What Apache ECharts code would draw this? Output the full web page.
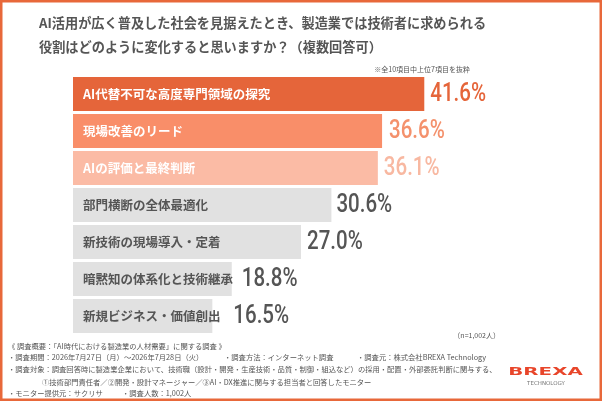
<!DOCTYPE html>
<html>
<head>
<meta charset="utf-8">
<script src="https://cdn.jsdelivr.net/npm/echarts@6/dist/echarts.min.js"></script>
<style>
  html, body { margin: 0; padding: 0; background: #fff; }
  #chart { width: 602px; height: 401px; }
</style>
</head>
<body>
<div id="chart"></div>
<script>
// 項目と回答率（%）
const categories = [
  'AI代替不可な高度専門領域の探究',
  '現場改善のリード',
  'AIの評価と最終判断',
  '部門横断の全体最適化',
  '新技術の現場導入・定着',
  '暗黙知の体系化と技術継承',
  '新規ビジネス・価値創出'
]
const values = [41.6, 36.6, 36.1, 30.6, 27.0, 18.8, 16.5]

const titleLines = [
  'AI活用が広く普及した社会を見据えたとき、製造業では技術者に求められる',
  '役割はどのように変化すると思いますか？（複数回答可）'
]
const note = '※全10項目中上位7項目を抜粋'
const sampleNote = '（n=1,002人）'

// 色・ラベル位置
const barColors = ['#E5653A', '#F98E69', '#FBBBA5', '#E1E1E1', '#E1E1E1', '#E1E1E1', '#E1E1E1']
const nameColors = ['#fff', '#fff', '#fff', '#555', '#555', '#555', '#555']
const valueColors = ['#E5653A', '#F4916C', '#F8B8A1', '#555', '#555', '#555', '#555']
const valueGaps = [6, 7, 6, 5, 6, 10, 21]

const jp = '"Noto Sans CJK JP", "Noto Sans", sans-serif'
const orange = '#E8683A'

function txt(x, y, text, size, opts) {
  return {
    type: 'text',
    x: x,
    y: y,
    style: Object.assign({
      text: text,
      fontSize: size,
      fontFamily: jp,
      fill: '#555',
      textVerticalAlign: 'middle'
    }, opts || {})
  }
}

let chart = echarts.init(document.getElementById('chart'))

chart.setOption({
  backgroundColor: '#fff',
  animation: false,
  grid: { left: 73, top: 75.5, width: 456, height: 259 },
  xAxis: { type: 'value', min: 0, max: 54, show: false },
  yAxis: { type: 'category', data: categories, inverse: true, show: false },
  series: [
    {
      type: 'bar',
      barCategoryGap: '8%',
      data: values.map((v, i) => ({
        value: v,
        itemStyle: { color: barColors[i] },
        label: { color: nameColors[i] }
      })),
      label: {
        show: true,
        position: 'insideLeft',
        distance: 10,
        fontSize: 12.5,
        fontWeight: 'bold',
        fontFamily: jp,
        formatter: p => categories[p.dataIndex]
      },
      z: 2
    },
    // 数値ラベル（細めの数字にするため横方向に縮める）
    {
      type: 'custom',
      data: values.map((v, i) => [v, i]),
      encode: { x: 0, y: 1 },
      renderItem: (params, api) => {
        const i = params.dataIndex
        const pt = api.coord([api.value(0), api.value(1)])
        return {
          type: 'text',
          x: pt[0] + valueGaps[i],
          y: pt[1] + 1,
          scaleX: 0.82,
          style: {
            text: values[i].toFixed(1) + '%',
            fontSize: 25,
            fontWeight: 500,
            fontFamily: 'Roboto, sans-serif',
            fill: valueColors[i],
            textAlign: 'left',
            textVerticalAlign: 'middle'
          }
        }
      },
      z: 3
    }
  ],
  graphic: [
    // 外枠
    {
      type: 'rect',
      shape: { x: 1.25, y: 1.25, width: 599.5, height: 398.5 },
      style: { fill: 'none', stroke: orange, lineWidth: 2.5 },
      z: 10
    },
    txt(39, 23, titleLines[0], 13.2, { fontWeight: 'bold' }),
    txt(39, 47, titleLines[1], 13.2, { fontWeight: 'bold' }),
    txt(470, 69, note, 7, { textAlign: 'right' }),
    txt(500, 335, sampleNote, 7, { textAlign: 'right' }),
    // 調査概要
    txt(8, 346, '《 調査概要：「AI時代における製造業の人材需要」に関する調査 》', 7.3),
    txt(8, 357, '・調査期間：2026年7月27日（月）～2026年7月28日（火）', 7.3),
    txt(224, 357, '・調査方法：インターネット調査', 7.3),
    txt(357, 357, '・調査元：株式会社BREXA Technology', 7.3),
    txt(8, 369, '・調査対象：調査回答時に製造業企業において、技術職（設計・開発・生産技術・品質・制御・組込など）の採用・配置・外部委託判断に関与する、', 7.3),
    txt(42, 382, '①技術部門責任者／②開発・設計マネージャー／③AI・DX推進に関与する担当者と回答したモニター', 7.3),
    txt(8, 393, '・モニター提供元：サクリサ', 7.3),
    txt(122, 393, '・調査人数：1,002人', 7.3),
    // ロゴ
    {
      type: 'text',
      x: 545.5,
      y: 372,
      scaleX: 1.8,
      style: {
        text: 'BREXA',
        fontSize: 11,
        fontWeight: 'bold',
        fontFamily: '"DejaVu Sans", sans-serif',
        fill: '#E8452A',
        textAlign: 'center',
        textVerticalAlign: 'middle',
        letterSpacing: 1.2
      }
    },
    txt(546, 383.5, 'TECHNOLOGY', 5.5, {
      textAlign: 'center',
      fontFamily: '"DejaVu Sans", sans-serif',
      fill: '#777'
    })
  ]
})

window.addEventListener('resize', () => {
  chart.resize()
})
</script>
</body>
</html>
